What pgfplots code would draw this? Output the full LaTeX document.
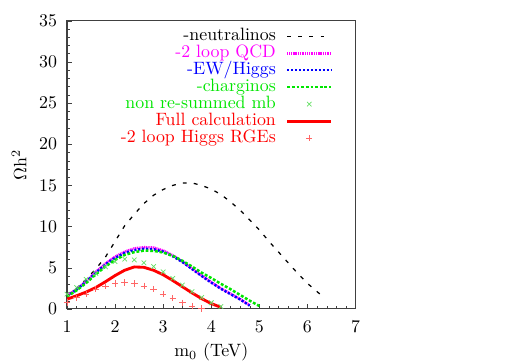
\documentclass[border=0pt]{standalone}
\usepackage{pgfplots}
\pgfplotsset{compat=1.18}
\definecolor{mag}{rgb}{1,0,1}
\definecolor{blu}{rgb}{0,0,1}
\definecolor{grn}{rgb}{0,0.9,0}
\definecolor{rd}{rgb}{1,0,0}
\begin{document}
\begin{tikzpicture}
\useasboundingbox (0,0) rectangle (288.4pt,202.2pt);
\begin{axis}[
  at={(37.5pt,29.2pt)}, anchor=south west,
  width=161.6pt, height=161.4pt, scale only axis,
  font=\fontsize{10}{12}\selectfont,
  xmin=1, xmax=7, ymin=0, ymax=35,
  xtick={1,2,3,4,5,6,7}, ytick={0,5,10,15,20,25,30,35},
  minor x tick num=4, minor y tick num=4,
  tick align=inside, xtick pos=bottom, ytick pos=left,
  major tick length=3pt, minor tick length=1.6pt,
  axis line style={black!75, line width=0.6pt},
  tick style={black!75},
  xticklabel style={yshift=-3.2pt},
  yticklabel style={xshift=-2pt},
  xlabel={m$_0$ (TeV)}, ylabel={$\Omega$h$^2$},
  xlabel style={at={(axis description cs:0.5,-0.149)}, anchor=center},
  ylabel style={at={(axis description cs:-0.166,0.5)}, anchor=center},
  legend plot pos=right,
  legend cell align=right,
  legend style={at={(rel axis cs:0.922,0.975)}, anchor=north east, draw=none, fill=none,
    inner sep=0pt, row sep=0.5pt, column sep=5.6pt,
    nodes={inner sep=0pt, text height=7pt, text depth=2pt}, font=\fontsize{10}{12}\selectfont},
  legend image code/.code={\draw[mark repeat=2,mark phase=2,#1] plot coordinates {(0pt,0pt) (12.3pt,0pt) (24.6pt,0pt)};},
]
\addplot[black, line width=0.7pt, dash pattern=on 2.2pt off 4pt] coordinates {
(1.0,1.5)(1.2,2.5)(1.4,3.6)(1.6,4.85)(1.8,6.3)(2.0,8.2)(2.2,10.1)(2.4,11.5)(2.6,12.8)(2.8,13.8)(3.0,14.5)(3.2,15.0)(3.4,15.3)(3.6,15.3)(3.8,15.0)(4.0,14.55)(4.2,13.9)(4.4,13.0)(4.6,12.0)(4.8,10.8)(5.0,9.6)(5.2,8.2)(5.4,6.9)(5.6,5.6)(5.8,4.3)(6.0,3.1)(6.2,2.1)(6.3,1.6)};
\addlegendentry{-neutralinos}
\addplot[mag, line width=1.4pt, dash pattern=on 0.6pt off 0.4pt] coordinates {
(1.0,1.6)(1.2,2.4)(1.4,3.35)(1.6,4.5)(1.8,5.5)(2.0,6.35)(2.2,6.95)(2.4,7.35)(2.6,7.5)(2.8,7.45)(3.0,7.1)(3.2,6.5)(3.4,5.75)(3.6,4.9)(3.8,4.05)(4.0,3.25)(4.2,2.5)(4.4,1.85)(4.6,1.2)(4.8,0.45)};
\addlegendentry{\textcolor{mag}{-2 loop QCD}}
\addplot[blu, line width=1.4pt, dash pattern=on 1.2pt off 1pt] coordinates {
(1.0,1.55)(1.2,2.35)(1.4,3.3)(1.6,4.4)(1.8,5.4)(2.0,6.2)(2.2,6.8)(2.4,7.15)(2.6,7.3)(2.8,7.25)(3.0,6.95)(3.2,6.4)(3.4,5.7)(3.6,4.85)(3.8,4.0)(4.0,3.2)(4.2,2.45)(4.4,1.8)(4.6,1.15)(4.8,0.4)};
\addlegendentry{\textcolor{blu}{-EW/Higgs}}
\addplot[grn, line width=1.4pt, dash pattern=on 1.6pt off 1pt] coordinates {
(1.0,1.5)(1.2,2.25)(1.4,3.15)(1.6,4.2)(1.8,5.15)(2.0,5.95)(2.2,6.55)(2.4,6.9)(2.6,7.08)(2.8,7.05)(3.0,6.85)(3.2,6.45)(3.4,5.85)(3.6,5.15)(3.8,4.4)(4.0,3.75)(4.2,3.05)(4.4,2.4)(4.6,1.7)(4.8,1.0)(5.0,0.35)};
\addlegendentry{\textcolor{grn}{-charginos}}
\addplot[only marks, mark=x, mark size=1.8pt, color=green!80!black!60!white, line width=0.4pt] coordinates {
(1.0,1.8)(1.2,2.6)(1.4,3.6)(1.6,4.3)(1.8,5.1)(2.0,5.75)(2.2,6.05)(2.4,5.95)(2.6,5.6)(2.8,5.15)(3.0,4.5)(3.2,3.7)(3.4,2.9)(3.6,2.1)(3.8,1.4)(4.0,0.75)(4.2,0.3)};
\addlegendentry{\textcolor{grn}{non re-summed mb}}
\addplot[rd, line width=1.6pt] coordinates {
(1.0,1.18)(1.2,1.6)(1.4,2.05)(1.6,2.6)(1.8,3.3)(2.0,4.05)(2.2,4.7)(2.4,5.1)(2.6,5.05)(2.8,4.7)(3.0,4.15)(3.2,3.45)(3.4,2.7)(3.6,1.95)(3.8,1.25)(4.0,0.65)(4.2,0.2)};
\addlegendentry{\textcolor{rd}{Full calculation}}
\addplot[only marks, mark=+, mark size=1.8pt, color=red!60, line width=0.4pt] coordinates {
(1.0,0.8)(1.2,1.35)(1.4,1.8)(1.6,2.4)(1.8,2.8)(2.0,3.1)(2.2,3.2)(2.4,3.1)(2.6,2.8)(2.8,2.4)(3.0,1.8)(3.2,1.3)(3.4,0.75)(3.6,0.35)(3.8,0.05)};
\addlegendentry{\textcolor{rd}{-2 loop Higgs RGEs}}
\end{axis}
\end{tikzpicture}
\end{document}
